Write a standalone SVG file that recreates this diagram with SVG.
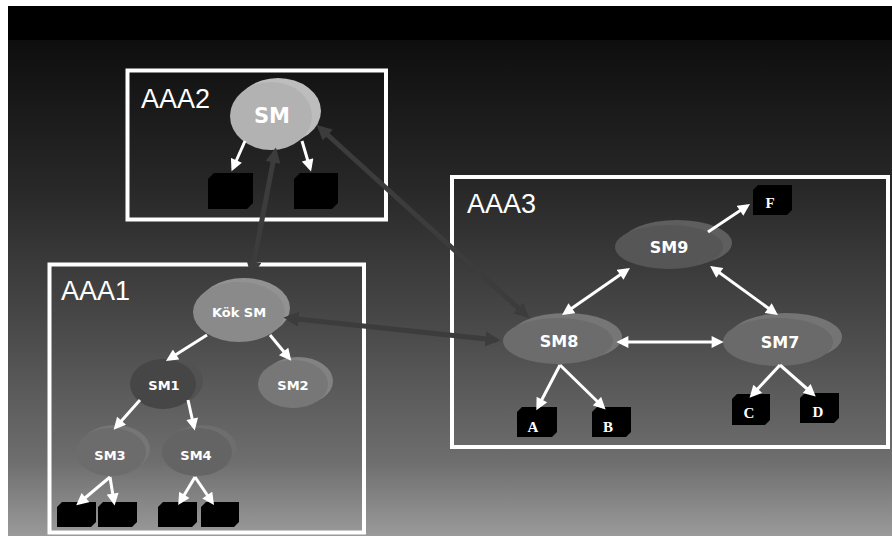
<svg xmlns="http://www.w3.org/2000/svg" width="892" height="536" viewBox="0 0 892 536">
  <defs>
    <linearGradient id="bg" x1="0" y1="40" x2="0" y2="536" gradientUnits="userSpaceOnUse">
      <stop offset="0" stop-color="#0e0e0e"/>
      <stop offset="0.3" stop-color="#282828"/>
      <stop offset="0.6" stop-color="#4c4c4c"/>
      <stop offset="0.85" stop-color="#6e6e6e"/>
      <stop offset="1" stop-color="#9a9a9a"/>
    </linearGradient>
    <marker id="whiteHead" viewBox="0 0 10 10" refX="7" refY="5" markerWidth="13" markerHeight="12" markerUnits="userSpaceOnUse" orient="auto-start-reverse">
      <path d="M0,0 L10,5 L0,10 z" fill="#ffffff"/>
    </marker>
    <marker id="grayHead" viewBox="0 0 10 10" refX="7" refY="5" markerWidth="17" markerHeight="15" markerUnits="userSpaceOnUse" orient="auto-start-reverse">
      <path d="M0,0 L10,5 L0,10 z" fill="#3c3c3c"/>
    </marker>
  </defs>
  <style>
    .zone { fill: none; stroke: #ffffff; stroke-width: 4; }
    .zlabel { font-family: "Liberation Sans", Arial, sans-serif; font-size: 27px; fill: #ffffff; }
    .nlabel { font-family: "DejaVu Sans", Verdana, sans-serif; font-weight: bold; fill: #ffffff; text-anchor: middle; }
    .cube { fill: #000000; }
    .clabel { font-family: "Liberation Serif", "Times New Roman", serif; font-weight: bold; font-size: 15px; fill: #ffffff; text-anchor: middle; }
    .warrow { stroke: #ffffff; stroke-width: 3; fill: none; marker-end: url(#whiteHead); }
    .wdouble { stroke: #ffffff; stroke-width: 3; fill: none; marker-start: url(#whiteHead); marker-end: url(#whiteHead); }
    .gdouble { stroke: #3c3c3c; stroke-width: 5; fill: none; marker-start: url(#grayHead); marker-end: url(#grayHead); }
  </style>

  <!-- backdrop: white margin, black title band, grey gradient -->
  <rect x="0" y="0" width="892" height="536" fill="#ffffff"/>
  <rect x="8" y="6" width="884" height="530" fill="url(#bg)"/>
  <rect x="8" y="6" width="884" height="34" fill="#000000"/>

  <!-- domain frames -->
  <g id="AAA2">
    <rect class="zone" x="127.5" y="70.5" width="258.5" height="149"/>
    <text class="zlabel" x="141" y="108">AAA2</text>
  </g>
  <g id="AAA1">
    <rect class="zone" x="49.5" y="264.5" width="314.5" height="268"/>
    <text class="zlabel" x="61" y="300">AAA1</text>
  </g>
  <g id="AAA3">
    <rect class="zone" x="452" y="177" width="436" height="270"/>
    <text class="zlabel" x="467" y="213">AAA3</text>
  </g>

  <!-- AAA2 nodes -->
  <g id="node-SM">
    <ellipse cx="278" cy="111" rx="43" ry="33" fill="#bdbdbd"/>
    <ellipse cx="271" cy="116" rx="41" ry="34" fill="#b2b2b2"/>
    <text class="nlabel" x="272" y="123" font-size="21">SM</text>
  </g>
  <g id="node-AAA2-leaf1">
    <polygon class="cube" points="214,173 253,173 253,203 247,209 208,209 208,179"/>
  </g>
  <g id="node-AAA2-leaf2">
    <polygon class="cube" points="300,173 338,173 338,203 332,209 294,209 294,179"/>
  </g>

  <!-- AAA1 nodes -->
  <g id="node-KokSM">
    <ellipse cx="244" cy="308" rx="46" ry="30" fill="#929292"/>
    <ellipse cx="239" cy="312" rx="46" ry="30" fill="#8a8a8a"/>
    <text class="nlabel" x="239" y="317" font-size="13">Kök SM</text>
  </g>
  <g id="node-SM1">
    <ellipse cx="169" cy="381" rx="34" ry="25" fill="#525252"/>
    <ellipse cx="163" cy="384" rx="33" ry="25" fill="#464646"/>
    <text class="nlabel" x="164" y="390" font-size="13">SM1</text>
  </g>
  <g id="node-SM2">
    <ellipse cx="298" cy="381" rx="35" ry="24" fill="#828282"/>
    <ellipse cx="293" cy="384" rx="35" ry="24" fill="#777777"/>
    <text class="nlabel" x="293" y="390" font-size="13">SM2</text>
  </g>
  <g id="node-SM3">
    <ellipse cx="115" cy="449" rx="35" ry="24" fill="#767676"/>
    <ellipse cx="111" cy="452" rx="35" ry="24" fill="#6c6c6c"/>
    <text class="nlabel" x="110" y="460" font-size="13">SM3</text>
  </g>
  <g id="node-SM4">
    <ellipse cx="202" cy="449" rx="35" ry="24" fill="#6e6e6e"/>
    <ellipse cx="197" cy="452" rx="35" ry="24" fill="#646464"/>
    <text class="nlabel" x="196" y="460" font-size="13">SM4</text>
  </g>
  <g id="node-AAA1-leaf1">
    <polygon class="cube" points="62,502 96,502 96,522 91,527 57,527 57,507"/>
  </g>
  <g id="node-AAA1-leaf2">
    <polygon class="cube" points="103,502 137,502 137,522 132,527 98,527 98,507"/>
  </g>
  <g id="node-AAA1-leaf3">
    <polygon class="cube" points="163,502 197,502 197,522 192,527 158,527 158,507"/>
  </g>
  <g id="node-AAA1-leaf4">
    <polygon class="cube" points="206,502 239,502 239,522 234,527 201,527 201,507"/>
  </g>

  <!-- AAA3 nodes -->
  <g id="node-SM9">
    <ellipse cx="677" cy="243" rx="55" ry="23" fill="#5e5e5e"/>
    <ellipse cx="669" cy="247" rx="54" ry="22" fill="#565656"/>
    <text class="nlabel" x="669" y="253" font-size="16">SM9</text>
  </g>
  <g id="node-SM8">
    <ellipse cx="566" cy="337" rx="56" ry="24" fill="#767676"/>
    <ellipse cx="558" cy="341" rx="55" ry="23" fill="#6c6c6c"/>
    <text class="nlabel" x="559" y="347" font-size="16">SM8</text>
  </g>
  <g id="node-SM7">
    <ellipse cx="786" cy="337" rx="56" ry="24" fill="#747474"/>
    <ellipse cx="778" cy="342" rx="55" ry="24" fill="#6a6a6a"/>
    <text class="nlabel" x="780" y="348" font-size="16">SM7</text>
  </g>
  <g id="node-F">
    <polygon class="cube" points="758,185 792,185 792,210 787,215 753,215 753,190"/>
    <text class="clabel" x="770" y="208">F</text>
  </g>
  <g id="node-A">
    <polygon class="cube" points="522,407 557,407 557,432 552,437 517,437 517,412"/>
    <text class="clabel" x="533" y="432">A</text>
  </g>
  <g id="node-B">
    <polygon class="cube" points="597,407 631,407 631,432 626,437 592,437 592,412"/>
    <text class="clabel" x="608" y="432">B</text>
  </g>
  <g id="node-C">
    <polygon class="cube" points="737,394 770,394 770,420 765,425 732,425 732,399"/>
    <text class="clabel" x="749" y="418">C</text>
  </g>
  <g id="node-D">
    <polygon class="cube" points="805,393 839,393 839,418 834,423 800,423 800,398"/>
    <text class="clabel" x="818" y="417">D</text>
  </g>

  <!-- connectors, drawn over the nodes so the heads stay visible -->
  <g id="connectors">
    <!-- AAA2 -->
    <line class="warrow" x1="245" y1="141" x2="233" y2="168"/>
    <line class="warrow" x1="302" y1="141" x2="310" y2="168"/>
    <!-- links between domains -->
    <line class="gdouble" x1="275" y1="152" x2="252" y2="272"/>
    <line class="gdouble" x1="320" y1="128" x2="526" y2="315"/>
    <line class="gdouble" x1="288" y1="318" x2="496" y2="340"/>
    <!-- AAA1 tree -->
    <line class="warrow" x1="207" y1="335" x2="169" y2="359"/>
    <line class="warrow" x1="270" y1="335" x2="289" y2="358"/>
    <line class="warrow" x1="140" y1="400" x2="116" y2="427"/>
    <line class="warrow" x1="188" y1="400" x2="194" y2="427"/>
    <line class="warrow" x1="110" y1="477" x2="79" y2="503"/>
    <line class="warrow" x1="110" y1="477" x2="114" y2="502"/>
    <line class="warrow" x1="195" y1="477" x2="180" y2="502"/>
    <line class="warrow" x1="195" y1="477" x2="212" y2="502"/>
    <!-- AAA3 mesh -->
    <line class="wdouble" x1="565" y1="313" x2="627" y2="270"/>
    <line class="wdouble" x1="713" y1="268" x2="775" y2="313"/>
    <line class="wdouble" x1="620" y1="342" x2="720" y2="342"/>
    <line class="warrow" x1="708" y1="232" x2="747" y2="206"/>
    <line class="warrow" x1="560" y1="365" x2="538" y2="407"/>
    <line class="warrow" x1="560" y1="365" x2="603" y2="407"/>
    <line class="warrow" x1="780" y1="365" x2="752" y2="395"/>
    <line class="warrow" x1="780" y1="365" x2="813" y2="394"/>
  </g>
</svg>
